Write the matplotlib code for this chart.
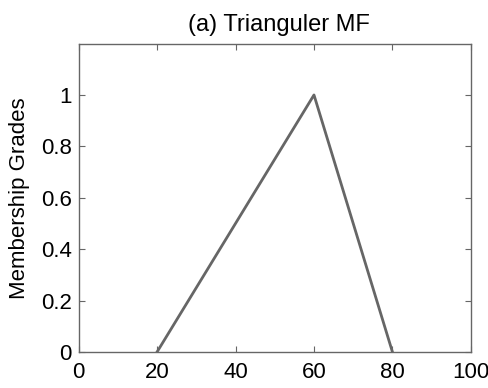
import matplotlib
matplotlib.use("Agg")
import matplotlib.pyplot as plt

# triangular membership function: feet at 20 and 80, peak at 60
x_pts = [20, 60, 80]
mu_pts = [0, 1, 0]
x_ticks = [0, 20, 40, 60, 80, 100]
y_ticks = [0, 0.2, 0.4, 0.6, 0.8, 1]
y_tick_labels = ["0", "0.2", "0.4", "0.6", "0.8", "1"]

plt.rcParams["font.family"] = ["Liberation Sans", "DejaVu Sans"]

fig = plt.figure(figsize=(4.88, 3.88), dpi=100)
ax = fig.add_axes([0.161, 0.0928, 0.804, 0.795])

ax.plot(x_pts, mu_pts, color="#666666", linewidth=2)
ax.set_xlim(0, 100)
ax.set_ylim(0, 1.2)
ax.set_xticks(x_ticks)
ax.set_yticks(y_ticks)
ax.set_yticklabels(y_tick_labels)
ax.tick_params(direction="in", top=True, right=True, labelsize=16,
               color="#666666", length=4, width=0.8)
ax.tick_params(axis="x", pad=7)
ax.tick_params(axis="y", pad=5)
for s in ax.spines.values():
    s.set_color("#666666")
    s.set_linewidth(1)
ax.set_ylabel("Membership Grades", fontsize=16, labelpad=8)
ax.set_title("(a) Trianguler MF", fontsize=17, pad=9, x=0.51)

fig.savefig("out.png", dpi=100)
